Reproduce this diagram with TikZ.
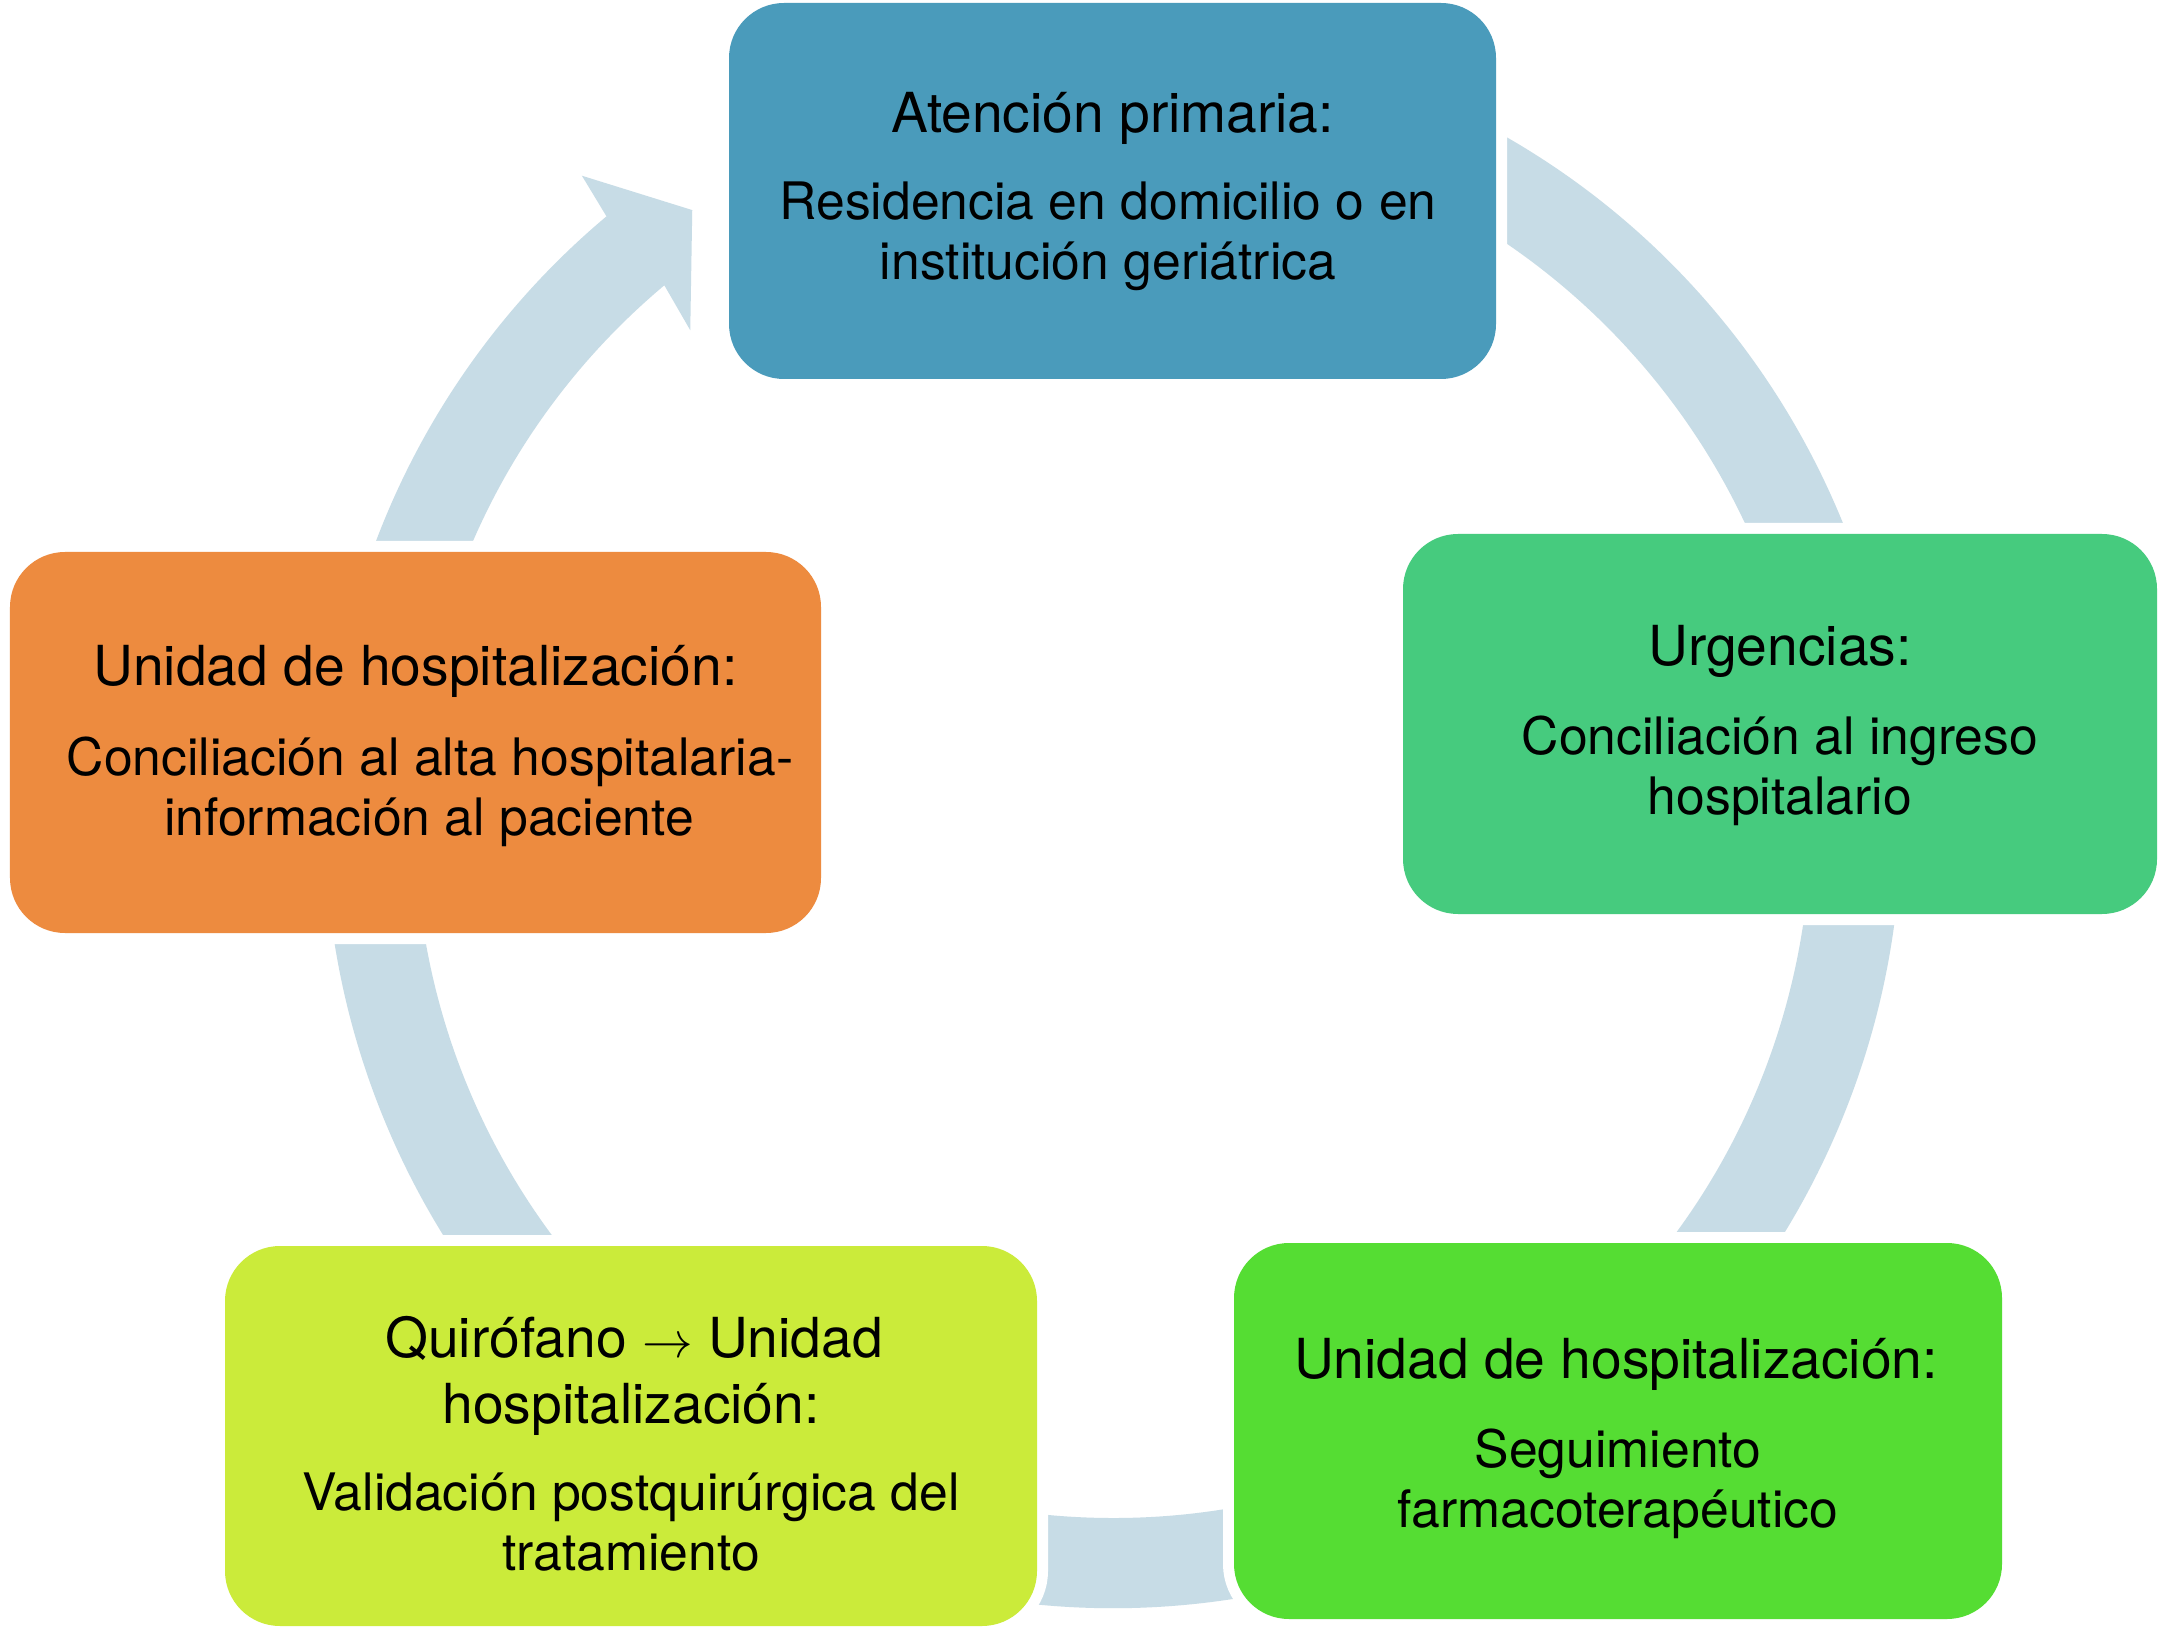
\documentclass[tikz,border=0pt]{standalone}
\usepackage{fontspec}
\setmainfont{TeX Gyre Heros}
\definecolor{ringc}{HTML}{C7DCE6}
\definecolor{cblue}{HTML}{4A9BBB}
\definecolor{cgreen}{HTML}{46CB7E}
\definecolor{corange}{HTML}{ED8B3F}
\definecolor{cyellow}{HTML}{CBEB3A}
\definecolor{cbright}{HTML}{55DD33}
\begin{document}
\begin{tikzpicture}[
  box/.style={rectangle, rounded corners=0.55cm, inner sep=0pt,
    preaction={draw=white, line width=0.22cm}},
  ttl/.style={anchor=base, inner sep=0pt, font=\fontsize{15.7}{18}\selectfont},
  bod/.style={anchor=base, inner sep=0pt, font=\fontsize{14.7}{17}\selectfont},
]
\useasboundingbox (0,0) rectangle (21.68,16.30);
\fill[white] (0,0) rectangle (21.68,16.30);
% circular arrow
\begin{scope}[shift={(11.13,8.10)}]
\fill[ringc] (70:7.88) arc[start angle=70, end angle=-230, radius=7.88]
  -- (129.5:8.35) -- (124.6:7.41) -- (130.8:6.47) -- (130:6.98)
  arc[start angle=-230, end angle=70, radius=6.98] -- cycle;
\end{scope}
% boxes
\node[box, fill=cblue, minimum width=7.67cm, minimum height=3.76cm] (b1) at (11.125,14.39) {};
\node[box, fill=cgreen, minimum width=7.54cm, minimum height=3.80cm] (b2) at (17.80,9.06) {};
\node[box, fill=cbright, minimum width=7.68cm, minimum height=3.76cm] (b3) at (16.18,1.99) {};
\node[box, fill=cyellow, minimum width=8.12cm, minimum height=3.80cm] (b4) at (6.31,1.94) {};
\node[box, fill=corange, minimum width=8.11cm, minimum height=3.81cm] (b5) at (4.155,8.875) {};
% texts
\node[ttl] (b1t) at (11.125,14.97) {Atención primaria:};
\node[bod] (b1a) at (11.08,14.10) {Residencia en domicilio o en};
\node[bod] (b1b) at (11.08,13.50) {institución geriátrica};
\node[ttl] (b2t) at (17.80,9.64) {Urgencias:};
\node[bod] (b2a) at (17.80,8.76) {Conciliación al ingreso};
\node[bod] (b2b) at (17.80,8.16) {hospitalario};
\node[ttl] (b3t) at (16.16,2.52) {Unidad de hospitalización:};
\node[bod] (b3a) at (16.18,1.63) {Seguimiento};
\node[bod] (b3b) at (16.18,1.03) {farmacoterapéutico};
\node[ttl] (b4t) at (6.34,2.73) {Quirófano $\rightarrow$ Unidad};
\node[ttl] (b4u) at (6.31,2.07) {hospitalización:};
\node[bod] (b4a) at (6.31,1.20) {Validación postquirúrgica del};
\node[bod] (b4b) at (6.31,0.60) {tratamiento};
\node[ttl] (b5t) at (4.155,9.44) {Unidad de hospitalización:};
\node[bod] (b5a) at (4.30,8.55) {Conciliación al alta hospitalaria-};
\node[bod] (b5b) at (4.29,7.95) {información al paciente};
\end{tikzpicture}
\end{document}
